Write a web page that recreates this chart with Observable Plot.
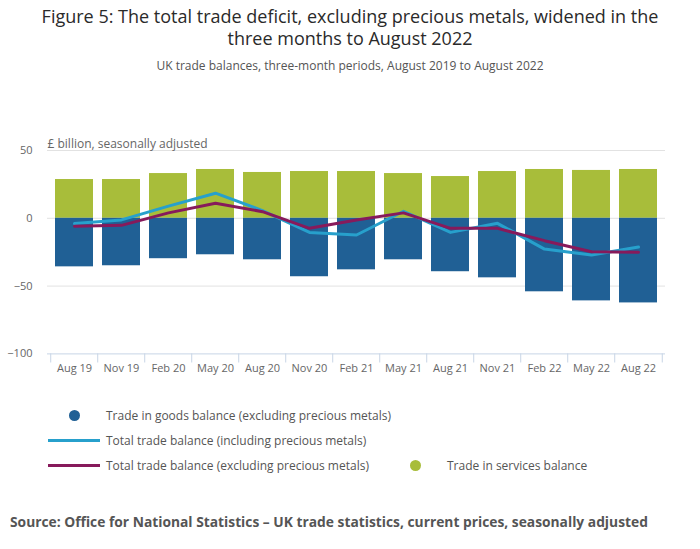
<!DOCTYPE html>
<html>
<head>
<meta charset="utf-8">
<script src="https://cdn.jsdelivr.net/npm/d3@7"></script>
<script src="https://cdn.jsdelivr.net/npm/@observablehq/plot@0.6"></script>
<style>
  body { margin: 0; background: #fff; font-family: "Open Sans", sans-serif; }
  #wrap { position: relative; width: 700px; height: 549px; }
  #title { position: absolute; top: 5px; left: 0; width: 700px; text-align: center; font-size: 18px; line-height: 22px; color: #2a2a2a; }
  #subtitle { position: absolute; top: 57px; left: 0; width: 700px; text-align: center; font-size: 12px; color: #555; }
  #chart { position: absolute; top: 130px; left: 0; }
  .leg { position: absolute; font-size: 12px; color: #555; line-height: 16px; white-space: nowrap; }
  .dot { position: absolute; width: 11px; height: 11px; border-radius: 50%; }
  .ln { position: absolute; height: 3px; width: 52px; }
  #source { position: absolute; top: 512px; left: 10px; font-size: 13.8px; font-weight: bold; color: #555; white-space: nowrap; }
</style>
</head>
<body>
<div id="wrap">
  <div id="title">Figure 5: The total trade deficit, excluding precious metals, widened in the<br>three months to August 2022</div>
  <div id="subtitle">UK trade balances, three-month periods, August 2019 to August 2022</div>
  <div id="chart"></div>
  <div class="dot" style="left:69px; top:410px; background:#206095;"></div>
  <div class="leg" style="left:106px; top:408px;">Trade in goods balance (excluding precious metals)</div>
  <div class="ln" style="left:48px; top:439px; background:#27a0cc;"></div>
  <div class="leg" style="left:106px; top:433px;">Total trade balance (including precious metals)</div>
  <div class="ln" style="left:48px; top:464px; background:#871a5b;"></div>
  <div class="leg" style="left:106px; top:458px;">Total trade balance (excluding precious metals)</div>
  <div class="dot" style="left:410px; top:460px; background:#a8bd3a;"></div>
  <div class="leg" style="left:447px; top:458px;">Trade in services balance</div>
  <div id="source">Source: Office for National Statistics – UK trade statistics, current prices, seasonally adjusted</div>
</div>
<script>
const periods = ["Aug 19","Nov 19","Feb 20","May 20","Aug 20","Nov 20","Feb 21","May 21","Aug 21","Nov 21","Feb 22","May 22","Aug 22"];
const goods = [-35.8,-35.0,-29.8,-26.9,-30.6,-43.1,-38.0,-30.6,-39.4,-43.9,-54.2,-60.9,-62.4];
const services = [28.6,28.6,33.0,36.0,33.8,34.5,34.5,33.0,30.8,34.5,36.0,35.3,36.0];
const totalIncl = [-3.9,-1.2,9.0,18.5,5.7,-10.4,-12.3,5.2,-10.4,-3.7,-22.7,-27.1,-21.2];
const totalExcl = [-5.9,-5.2,4.0,11.1,4.9,-7.4,-1.2,4.0,-7.4,-7.4,-16.5,-24.7,-25.1];
const yTicks = [50, 0, -50, -100];

const rows = periods.map((p, i) => ({p, goods: goods[i], services: services[i], incl: totalIncl[i], excl: totalExcl[i]}));

const W = 700, ML = 47, MR = 35;
const step = (W - ML - MR) / periods.length;

const chart = Plot.plot({
  width: W,
  height: 261,
  marginLeft: ML,
  marginRight: MR,
  marginTop: 20,
  marginBottom: 37.6,
  style: {fontFamily: "Open Sans, sans-serif", fontSize: "11px", color: "#666", background: "#fff"},
  x: {domain: periods, paddingInner: 0.2, paddingOuter: 0.1, label: null},
  y: {domain: [-100, 50], label: null},
  marks: [
    Plot.ruleY([50, 0, -50], {stroke: "#e2e2e2", strokeWidth: 1}),
    Plot.barY(rows, {x: "p", y: "services", fill: "#a8bd3a"}),
    Plot.barY(rows, {x: "p", y: "goods", fill: "#206095"}),
    Plot.line(rows, {x: "p", y: "incl", stroke: "#27a0cc", strokeWidth: 3}),
    Plot.line(rows, {x: "p", y: "excl", stroke: "#871a5b", strokeWidth: 3}),
    Plot.ruleY([-100], {stroke: "#c8d5e6", strokeWidth: 1}),
    Plot.ruleX(periods, {x: d => d, dx: -step / 2, y1: -100, y2: -106.7, stroke: "#c8d5e6"}),
    Plot.ruleX([periods[periods.length - 1]], {x: d => d, dx: step / 2, y1: -100, y2: -106.7, stroke: "#c8d5e6"}),
    Plot.axisY({ticks: yTicks, tickSize: 0, tickPadding: 15, fill: "#666", fontSize: 11, label: null}),
    Plot.axisX({tickSize: 0, tickPadding: 10, fill: "#666", fontSize: 11, label: null}),
    Plot.text(["£ billion, seasonally adjusted"], {frameAnchor: "top-left", dy: -11, textAnchor: "start", fill: "#666", fontSize: 12})
  ]
});
document.getElementById("chart").appendChild(chart);
</script>
</body>
</html>
